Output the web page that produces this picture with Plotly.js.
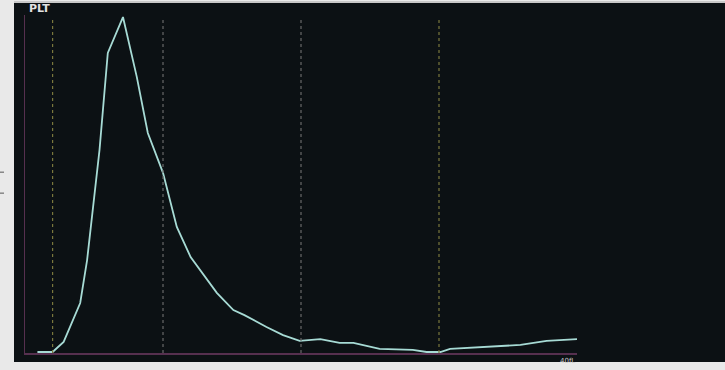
<!DOCTYPE html>
<html>
<head>
<meta charset="utf-8">
<script src="https://cdn.plot.ly/plotly-3.0.1.min.js"></script>
<style>
  html, body { margin: 0; padding: 0; background: #e9e9e9; }
  #chart { width: 725px; height: 370px; }
</style>
</head>
<body>
<div id="chart"></div>
<script>
// PLT volume distribution (fL) and relative count
const volumeFl = [0.9, 2.0, 2.8, 4.0, 4.5, 5.4, 6.0, 7.1, 8.1, 8.9, 10.0, 11.0, 12.0,
                  13.9, 15.1, 15.9, 17.5, 18.7, 19.9, 21.4, 22.8, 23.8, 25.7, 28.1,
                  29.1, 30.1, 30.8, 33.7, 35.9, 37.8, 40.0];
const relCount = [0.3, 0.3, 3.3, 14.8, 27.5, 60.1, 88.8, 99.4, 81.7, 65.1, 53.3, 37.3, 28.4,
                  17.8, 12.7, 11.2, 7.7, 5.3, 3.6, 4.1, 3.0, 3.0, 1.2, 0.9,
                  0.3, 0.3, 1.2, 1.8, 2.4, 3.6, 4.1];

// Discriminator / grid markers along the volume axis
const markerFl = [2, 10, 20, 30];
const markerColor = ['#7a773c', '#696969', '#696969', '#7a773c'];

const histTitle = 'PLT';
const axisEndLabel = '40fL';

const bg = '#0c1114';
const page = '#e9e9e9';
const frame = '#56304f';

const shapes = [];

// dark display panel around the plotting area
shapes.push({type: 'rect', xref: 'paper', yref: 'paper', layer: 'below',
  x0: -11 / 552, x1: 700 / 552, y0: -9 / 338, y1: 350 / 338,
  fillcolor: bg, line: {width: 0}});
// thin light strip along the top edge
shapes.push({type: 'line', xref: 'paper', yref: 'paper', layer: 'below',
  x0: -11 / 552, x1: 700 / 552, y0: 351 / 338, y1: 351 / 338,
  line: {color: '#bdbdbd', width: 1.5}});

markerFl.forEach((v, i) => {
  shapes.push({type: 'line', xref: 'x', yref: 'paper', layer: 'above',
    x0: v, x1: v, y0: 0, y1: 336 / 338,
    line: {color: markerColor[i], width: 1.2, dash: 'dot'}});
});

// small index ticks on the frame to the left of the panel
[0.535, 0.473].forEach(p => {
  shapes.push({type: 'line', xref: 'paper', yref: 'paper', layer: 'above',
    x0: -25 / 552, x1: -21 / 552, y0: p, y1: p,
    line: {color: '#555', width: 1}});
});

const trace = {
  x: volumeFl,
  y: relCount,
  type: 'scatter',
  mode: 'lines',
  line: {color: '#a7dbd5', width: 1.8},
  hoverinfo: 'skip'
};

const layout = {
  width: 725,
  height: 370,
  margin: {l: 25, r: 148, t: 15, b: 17, pad: 0},
  paper_bgcolor: page,
  plot_bgcolor: bg,
  showlegend: false,
  xaxis: {
    range: [0, 40], showgrid: false, zeroline: false, showticklabels: false,
    ticks: '', showline: true, linecolor: frame, linewidth: 1.5, fixedrange: true
  },
  yaxis: {
    range: [0, 100], showgrid: false, zeroline: false, showticklabels: false,
    ticks: '', showline: true, linecolor: frame, linewidth: 1.5, fixedrange: true
  },
  shapes: shapes,
  annotations: [
    {text: '<b>' + histTitle + '</b>', xref: 'paper', yref: 'paper',
     x: 2 / 552, y: 344 / 338, xanchor: 'left', yanchor: 'middle', showarrow: false,
     font: {family: 'DejaVu Sans, Arial, sans-serif', size: 11, color: '#e2e2e2'}},
    {text: axisEndLabel, xref: 'x', yref: 'paper',
     x: 40, y: -8 / 338, xanchor: 'right', yanchor: 'middle', showarrow: false,
     font: {family: 'DejaVu Sans, Arial, sans-serif', size: 7, color: '#c8c8c8'}}
  ]
};

Plotly.newPlot('chart', [trace], layout, {displayModeBar: false, staticPlot: true});
</script>
</body>
</html>
